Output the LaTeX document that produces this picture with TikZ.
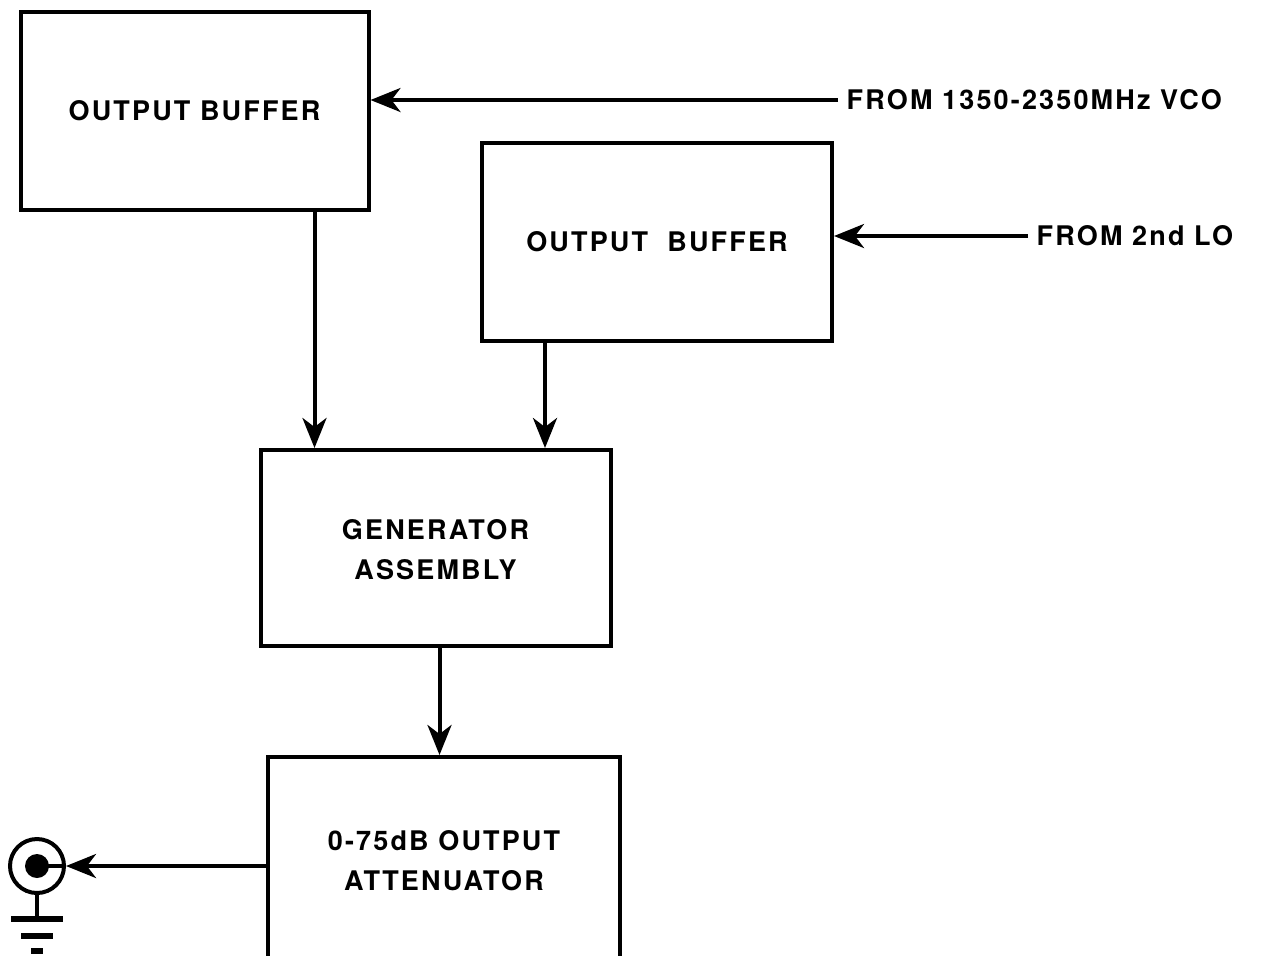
\documentclass[tikz,border=0pt]{standalone}
\usepackage{fontspec}
\setmainfont{TeX Gyre Heros}[LetterSpace=8]
\usetikzlibrary{arrows.meta, positioning, calc}

\begin{document}
\begin{tikzpicture}[x=0.5pt, y=-0.5pt,
    >={Stealth[length=15pt, width=12pt, inset=4.5pt]},
    line width=2pt,
    font=\fontsize{13.5pt}{20pt}\selectfont\bfseries,
    block/.style={draw, rectangle, line width=2pt, align=center,
        minimum width=174pt, minimum height=99pt}]
    \useasboundingbox (0,0) rectangle (1263,955);
    % blocks
    \node[block] (buf1) at (194.5,110.5) {OUTPUT BUFFER};
    \node[block, minimum width=175pt] (buf2) at (657,241.5) {OUTPUT\ \ BUFFER};
    \node[block, minimum width=175pt, minimum height=98pt] (gen) at (435.5,548) {\\[-8pt]GENERATOR\\ASSEMBLY};
    \node[block, minimum width=176pt, minimum height=104pt] (att) at (444,861) {0-75dB OUTPUT\\ATTENUATOR};
    % inputs
    \node[anchor=west] (vco) at (838,100) {FROM 1350-2350MHz VCO};
    \node[anchor=west] (lo) at (1028,236) {FROM 2nd LO};
    % output jack
    \node[draw, circle, line width=2pt, minimum size=27pt, inner sep=0pt] (jack) at (37,866) {};
    \node[fill, circle, minimum size=12pt, inner sep=0pt] (pin) at (jack.center) {};
    \coordinate (gnd) at ([yshift=-12pt]jack.south);
    % connections
    \draw[->] (vco.west) -- (vco.west -| buf1.east);
    \draw[->] (lo.west) -- (lo.west -| buf2.east);
    \draw[->] ([xshift=60pt]buf1.south) -- ([xshift=60pt]buf1.south |- gen.north);
    \draw[->] ([xshift=-56pt]buf2.south) -- ([xshift=-56pt]buf2.south |- gen.north);
    \draw[->] ([xshift=2pt]gen.south) -- ([xshift=2pt]gen.south |- att.north);
    \draw[->] (att.west |- jack.east) -- (jack.east);
    \draw (pin.center) -- (jack.east);
    % ground
    \draw (jack.south) -- (gnd);
    \draw[line width=3pt] ([xshift=-13pt]gnd) -- ([xshift=13pt]gnd);
    \draw[line width=3pt] ([xshift=-8pt, yshift=-8.5pt]gnd) -- ([xshift=8pt, yshift=-8.5pt]gnd);
    \draw[line width=3pt] ([xshift=-3pt, yshift=-16pt]gnd) -- ([xshift=3pt, yshift=-16pt]gnd);
\end{tikzpicture}
\end{document}
